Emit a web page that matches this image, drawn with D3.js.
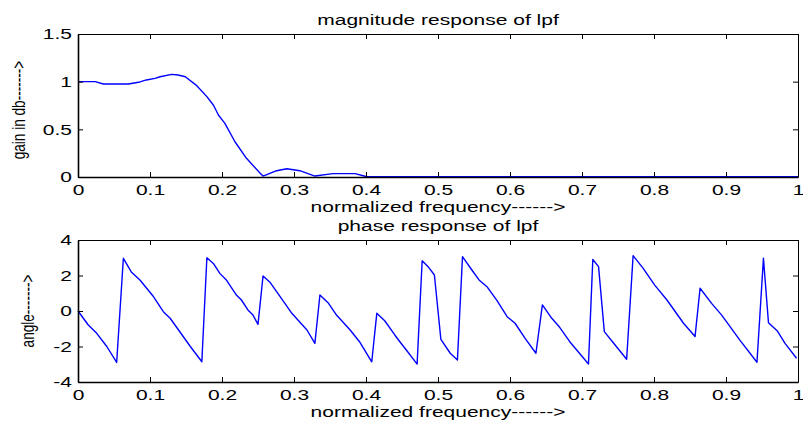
<!DOCTYPE html>
<html>
<head>
<meta charset="utf-8">
<script src="https://cdn.jsdelivr.net/npm/d3@7/dist/d3.min.js"></script>
<style>
  body { margin: 0; background: #fff; }
  svg text { font-family: "Liberation Sans", Arial, sans-serif; fill: #000; }
</style>
</head>
<body>
<svg id="chart"></svg>
<script>
// magnitude response samples (normalized frequency, gain)
const magFreq = [0, 0.024, 0.035, 0.07, 0.086, 0.095, 0.107, 0.114, 0.13, 0.139, 0.149, 0.165, 0.179, 0.188, 0.195, 0.204, 0.218, 0.234, 0.253, 0.257, 0.276, 0.29, 0.308, 0.329, 0.354, 0.385, 0.4, 0.5, 0.6, 0.7, 0.8, 0.9, 1.0];
const magGain = [1.0, 1.0, 0.976, 0.975, 0.997, 1.018, 1.035, 1.052, 1.077, 1.07, 1.052, 0.958, 0.843, 0.755, 0.65, 0.563, 0.37, 0.196, 0.04, 0.01, 0.066, 0.087, 0.066, 0.01, 0.035, 0.035, 0.005, 0.004, 0.004, 0.004, 0.004, 0.004, 0.004];

// phase response samples (normalized frequency, angle)
const phaseFreq = [0, 0.0143, 0.026, 0.04, 0.0537, 0.063, 0.074, 0.086, 0.105, 0.1185, 0.128, 0.156, 0.172, 0.179, 0.188, 0.197, 0.206, 0.22, 0.227, 0.236, 0.243, 0.25, 0.257, 0.267, 0.281, 0.297, 0.318, 0.329, 0.336, 0.348, 0.359, 0.378, 0.391, 0.408, 0.415, 0.426, 0.44, 0.447, 0.456, 0.471, 0.478, 0.487, 0.495, 0.504, 0.517, 0.527, 0.534, 0.547, 0.557, 0.568, 0.582, 0.596, 0.607, 0.621, 0.636, 0.645, 0.658, 0.669, 0.683, 0.709, 0.715, 0.723, 0.731, 0.744, 0.762, 0.771, 0.785, 0.801, 0.818, 0.841, 0.857, 0.864, 0.88, 0.894, 0.919, 0.943, 0.952, 0.959, 0.971, 0.982, 0.998];
const phaseAngle = [0, -0.79, -1.26, -2.0, -2.9, 2.97, 2.2, 1.75, 0.8, -0.04, -0.41, -2.0, -2.86, 3.0, 2.68, 2.12, 1.75, 0.9, 0.62, 0.06, -0.23, -0.75, 1.97, 1.6, 0.8, -0.13, -1.07, -1.82, 0.9, 0.43, -0.23, -1.07, -1.73, -2.86, -0.13, -0.55, -1.35, -1.73, -2.2, -2.99, 2.83, 2.46, 2.03, -1.6, -2.38, -2.76, 3.06, 2.31, 1.75, 1.37, 0.58, -0.32, -0.69, -1.54, -2.38, 0.34, -0.41, -0.92, -1.73, -2.99, 2.9, 2.5, -1.16, -1.82, -2.72, 3.12, 2.4, 1.46, 0.62, -0.69, -1.44, 1.28, 0.43, -0.23, -1.63, -2.89, 2.97, -0.66, -1.11, -1.82, -2.66];

// ticks
const xTicks = [0, 0.1, 0.2, 0.3, 0.4, 0.5, 0.6, 0.7, 0.8, 0.9, 1];
const xTickLabels = ["0", "0.1", "0.2", "0.3", "0.4", "0.5", "0.6", "0.7", "0.8", "0.9", "1"];
const magTicks = [0, 0.5, 1, 1.5];
const magTickLabels = ["0", "0.5", "1", "1.5"];
const phaseTicks = [-4, -2, 0, 2, 4];
const phaseTickLabels = ["-4", "-2", "0", "2", "4"];

const W = 803, H = 422;
const SX = 1.4; // horizontal stretch of the original picture's text

const svg = d3.select("#chart").attr("width", W).attr("height", H);
svg.append("rect").attr("width", W).attr("height", H).attr("fill", "#fff");

function stretchText(sel) {
  sel.each(function() {
    const t = d3.select(this);
    const x = +t.attr("x") || 0;
    t.attr("x", x / SX).attr("transform", `scale(${SX},1)`);
  });
}

function drawPanel(opts) {
  const { left, right, top, bottom, yDomain, yTicks, yLabels, xs, ys, title, ylabel, ylabelX, ylabelY } = opts;
  const x = d3.scaleLinear().domain([0, 1]).range([left, right]);
  const y = d3.scaleLinear().domain(yDomain).range([bottom, top]);
  const g = svg.append("g");

  // line
  const line = d3.line().x(d => x(d[0])).y(d => y(d[1]));
  g.append("path")
    .datum(d3.zip(xs, ys))
    .attr("d", line)
    .attr("fill", "none")
    .attr("stroke", "#0000ff")
    .attr("stroke-width", 1.4)
    .attr("stroke-linejoin", "round");

  // bottom axis with labels
  const xb = g.append("g")
    .attr("transform", `translate(0,${bottom})`)
    .call(d3.axisBottom(x).tickValues(xTicks).tickFormat((d, i) => xTickLabels[i])
      .tickSize(-5).tickSizeOuter(0).tickPadding(7));
  // top axis, ticks only
  const xt = g.append("g")
    .attr("transform", `translate(0,${top})`)
    .call(d3.axisTop(x).tickValues(xTicks).tickFormat("").tickSize(-5).tickSizeOuter(0));
  // left axis with labels
  const yl = g.append("g")
    .attr("transform", `translate(${left},0)`)
    .call(d3.axisLeft(y).tickValues(yTicks).tickFormat((d, i) => yLabels[i])
      .tickSize(-5).tickSizeOuter(0).tickPadding(6));
  // right axis, ticks only
  const yr = g.append("g")
    .attr("transform", `translate(${right},0)`)
    .call(d3.axisRight(y).tickValues(yTicks).tickFormat("").tickSize(-5).tickSizeOuter(0));

  [xb, xt, yl, yr].forEach(a => {
    a.select(".domain").attr("stroke", "#000").attr("stroke-width", 1);
    a.selectAll("line").attr("stroke", "#000");
  });
  yl.select(".domain").attr("stroke-width", 1.6);
  xb.select(".domain").attr("stroke-width", 1.6);

  xb.selectAll("text").attr("font-size", 15).attr("font-family", "Liberation Sans, Arial, sans-serif").call(stretchText);
  yl.selectAll("text").attr("font-size", 15).attr("font-family", "Liberation Sans, Arial, sans-serif").call(stretchText);

  // title
  const cx = (left + right) / 2;
  g.append("g").attr("transform", `translate(${cx},${top - 9})`)
    .append("text")
    .attr("text-anchor", "middle")
    .attr("font-size", 15)
    .attr("transform", `scale(${SX},1)`)
    .text(title);

  // x label
  g.append("g").attr("transform", `translate(${cx},${bottom + 35})`)
    .append("text")
    .attr("text-anchor", "middle")
    .attr("font-size", 15)
    .attr("transform", `scale(${SX},1)`)
    .text("normalized frequency------>");

  // y label (stretched across its thickness, like the original)
  g.append("text")
    .attr("transform", `translate(${ylabelX},${ylabelY}) rotate(-90) scale(1,${SX})`)
    .attr("text-anchor", "middle")
    .attr("font-size", 13.6)
    .text(ylabel);
}

drawPanel({
  left: 78, right: 798, top: 34, bottom: 177,
  yDomain: [0, 1.5], yTicks: magTicks, yLabels: magTickLabels,
  xs: magFreq, ys: magGain,
  title: "magnitude response of lpf", ylabel: "gain in db------->", ylabelX: 24.5, ylabelY: 110
});

drawPanel({
  left: 78, right: 798, top: 240, bottom: 382,
  yDomain: [-4, 4], yTicks: phaseTicks, yLabels: phaseTickLabels,
  xs: phaseFreq, ys: phaseAngle,
  title: "phase response of lpf", ylabel: "angle------->", ylabelX: 34, ylabelY: 311
});
</script>
</body>
</html>
